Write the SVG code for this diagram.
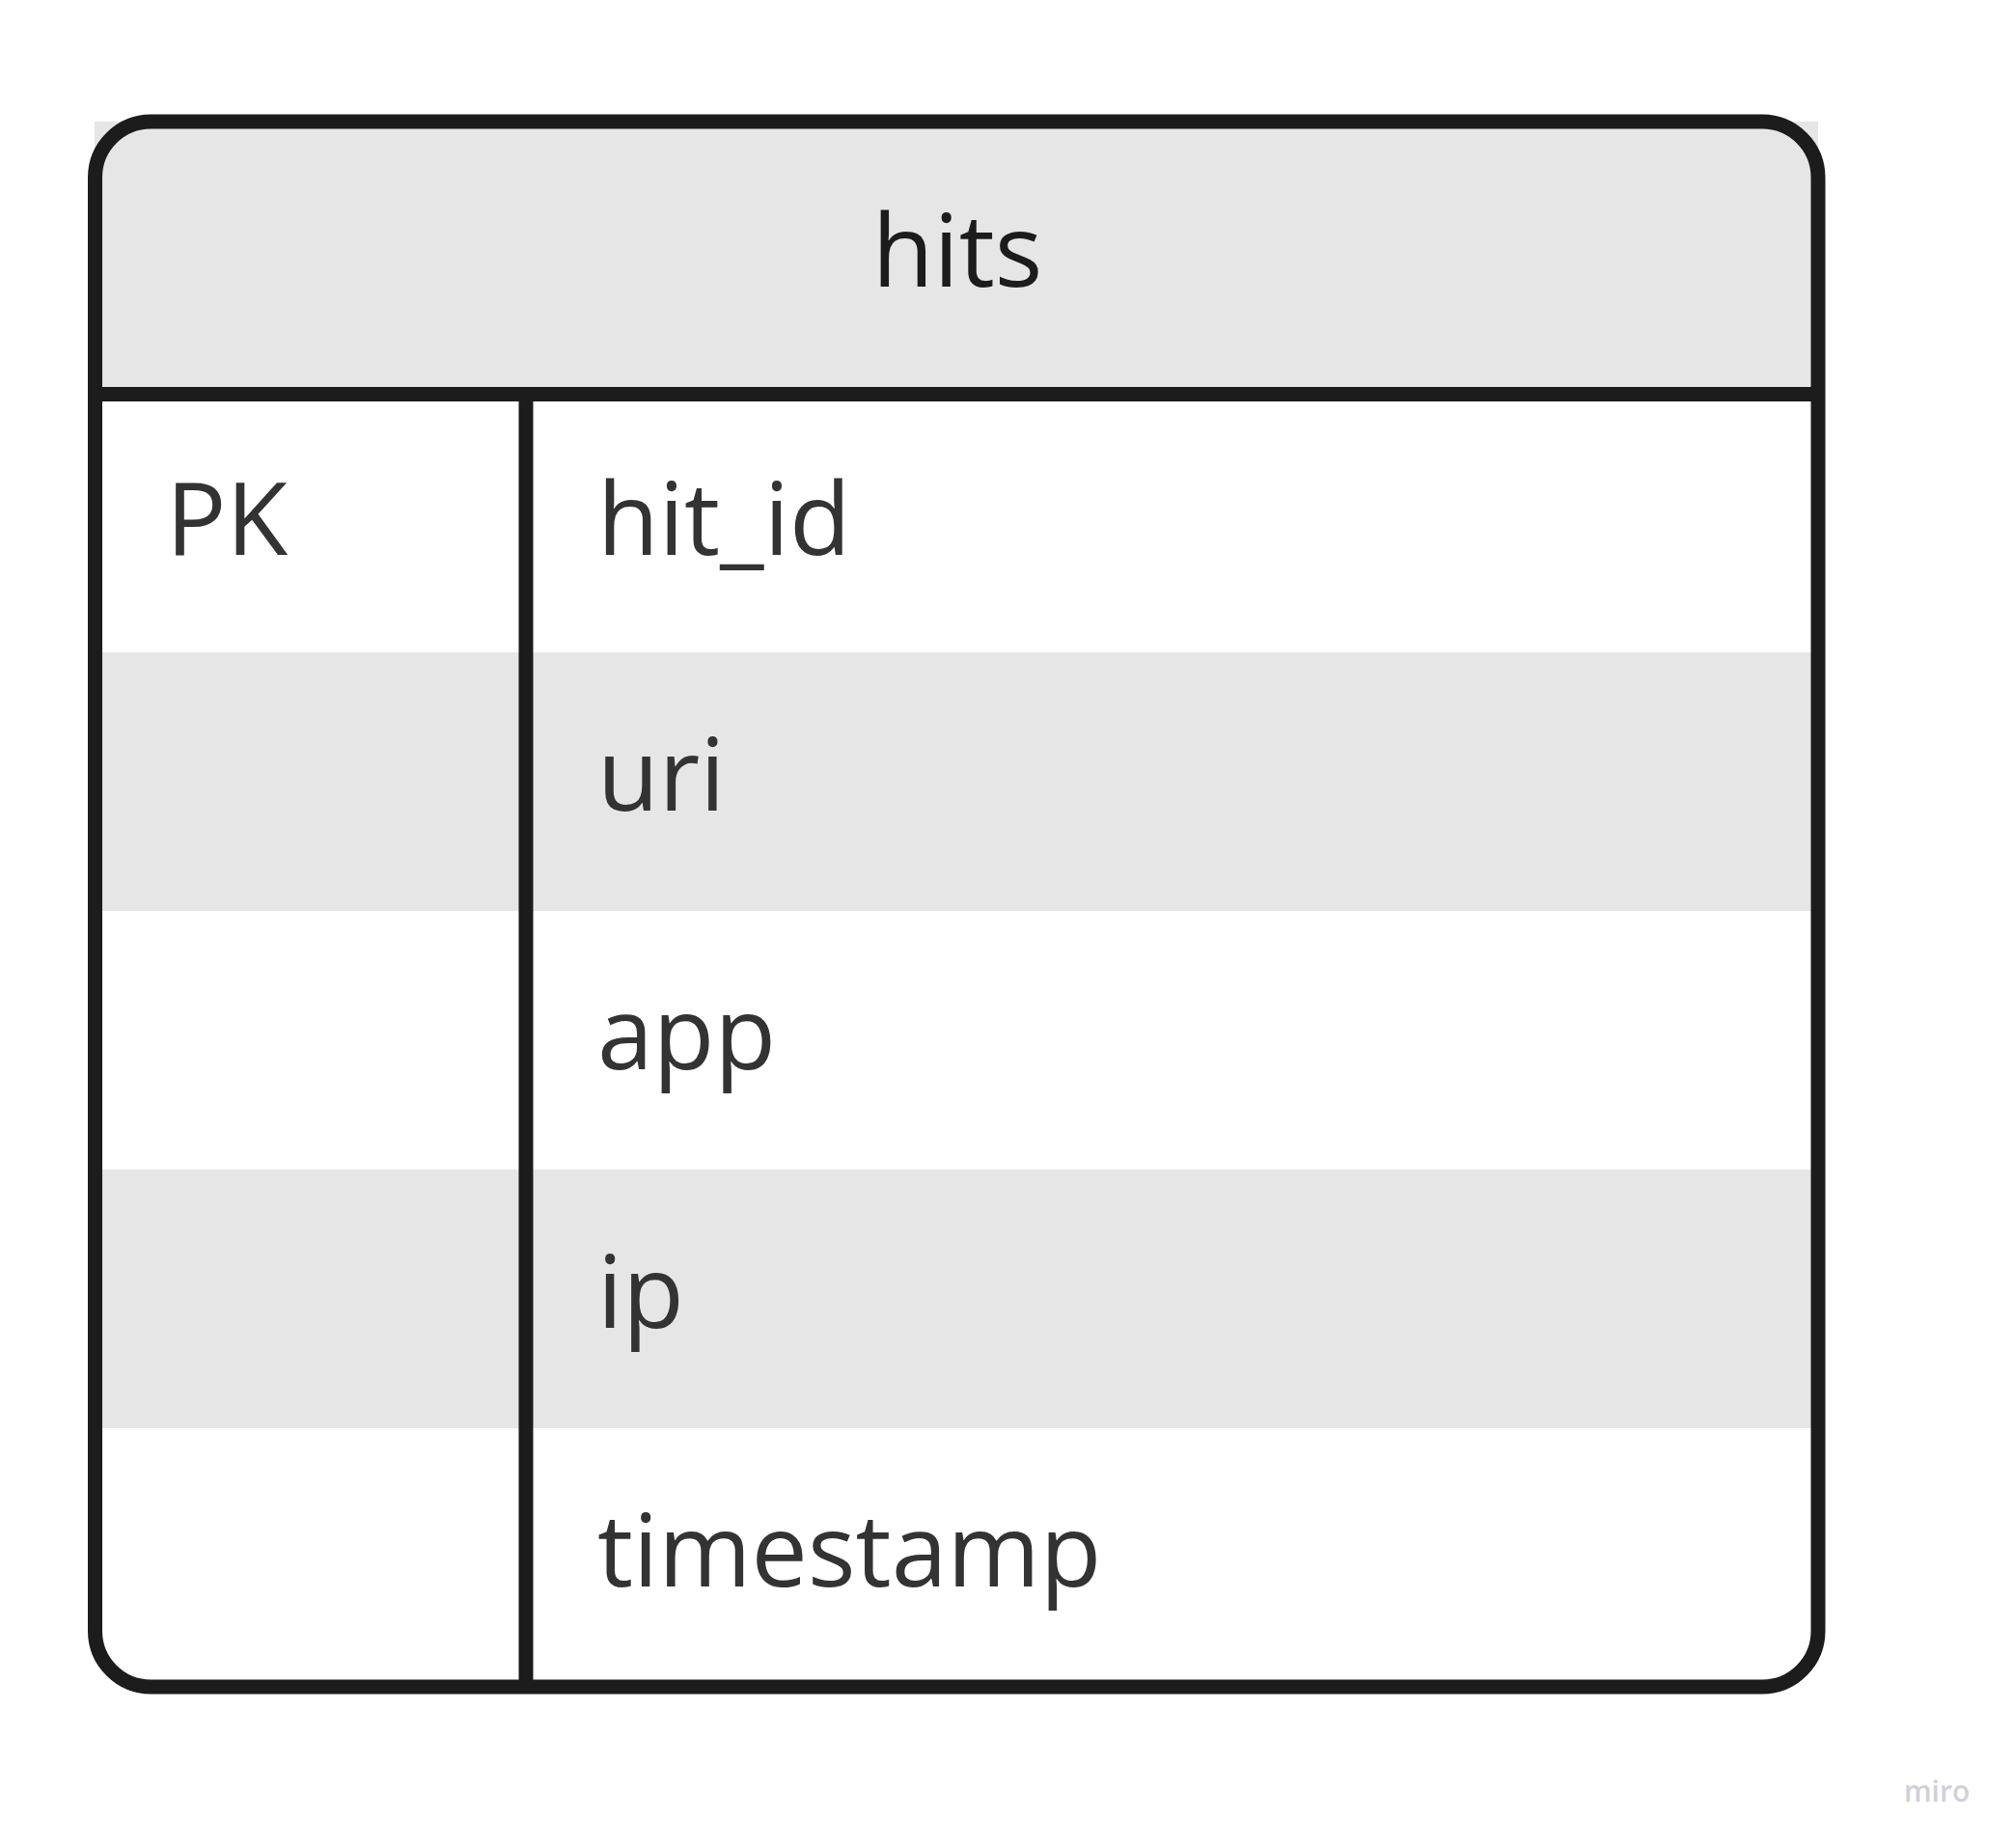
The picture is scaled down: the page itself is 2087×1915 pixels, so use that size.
<svg xmlns="http://www.w3.org/2000/svg" width="2087" height="1915" viewBox="0 0 2087 1915">
  <style>
    .band { fill: #e6e6e6; }
    .line { stroke: #1c1c1c; stroke-width: 15; fill: none; }
    .title { font-family: "Open Sans", "Noto Sans", sans-serif; font-size: 104px; fill: #1c1c1c; }
    .cell { font-family: "Open Sans", "Noto Sans", sans-serif; font-size: 104px; fill: #333333; }
    .wm { font-family: "Open Sans", "Noto Sans", sans-serif; font-size: 30px; font-weight: 600; fill: #d0d0dc; }
  </style>
  <rect width="2087" height="1915" fill="#ffffff"/>
  <g id="hits">
    <rect class="band" x="98" y="126" width="1786" height="282"/>
    <rect class="band" x="98" y="676" width="1786" height="268"/>
    <rect class="band" x="98" y="1212" width="1786" height="268"/>
    <rect class="line" x="98.5" y="126" width="1785.5" height="1622" rx="58" ry="58"/>
    <line class="line" x1="98" y1="408.5" x2="1884" y2="408.5"/>
    <line class="line" x1="545" y1="408" x2="545" y2="1748"/>
    <text class="title" x="992" y="297" text-anchor="middle">hits</text>
    <text class="cell" x="172" y="575">PK</text>
    <text class="cell" x="619" y="575">hit_id</text>
    <text class="cell" x="619" y="840">uri</text>
    <text class="cell" x="619" y="1108">app</text>
    <text class="cell" x="619" y="1376">ip</text>
    <text class="cell" x="619" y="1644">timestamp</text>
  </g>
  <g id="connectors"></g>
  <text class="wm" x="1973" y="1867">miro</text>
</svg>
